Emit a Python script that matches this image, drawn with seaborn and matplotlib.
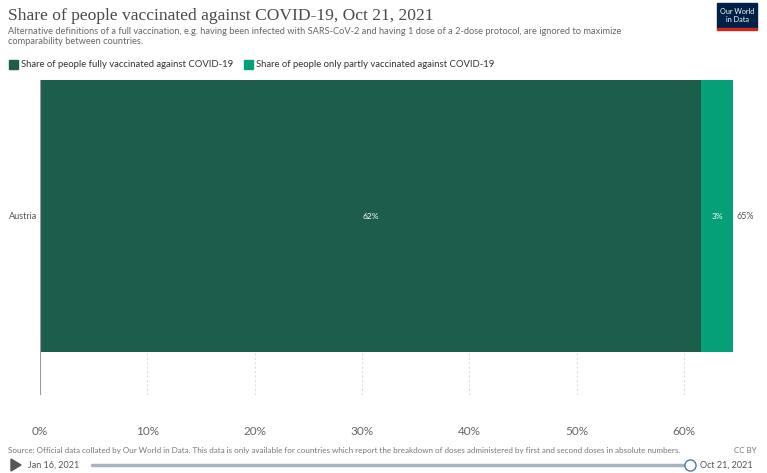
import matplotlib
matplotlib.use("Agg")
import matplotlib.pyplot as plt
import seaborn as sns
import pandas as pd
from matplotlib.patches import Rectangle, Polygon
from matplotlib.lines import Line2D

countries = ["Austria"]
fully = [61.6]
partly = [3.0]
total_labels = ["65%"]
full_labels = ["62%"]
part_labels = ["3%"]
xticks = [0, 10, 20, 30, 40, 50, 60]

sns.set_theme(style="white")
plt.rcParams['font.family'] = ['Lato', 'DejaVu Sans']

W, H = 767, 473
fig = plt.figure(figsize=(W / 100, H / 100), dpi=100)

def fx(px):
    return px / W

def fy(py):
    return 1 - py / H

ax = fig.add_axes([fx(40), fy(395), fx(741) - fx(40), fy(80) - fy(395)])

c_full = "#1d5d4b"
c_part = "#05a077"

df = pd.DataFrame({"country": countries,
                   "fully": fully,
                   "total": [f + p for f, p in zip(fully, partly)]})

sns.barplot(data=df, y="country", x="total", orient="h", color=c_part,
            saturation=1, width=0.8, ax=ax, edgecolor="none")
sns.barplot(data=df, y="country", x="fully", orient="h", color=c_full,
            saturation=1, width=0.8, ax=ax, edgecolor="none")

ax.set_xlim(0, 65.3)
ax.set_ylim(0.526, -0.4)
for s in ax.spines.values():
    s.set_visible(False)
ax.set_xlabel("")
ax.set_ylabel("")
ax.set_yticks([])
ax.set_xticks([])
for t in xticks[1:]:
    ax.axvline(t, color="#dddddd", lw=0.8, ls=(0, (2, 2)), zorder=0)
ax.axvline(0, color="#999999", lw=0.8, zorder=3)

trans = ax.get_xaxis_transform()
for t in xticks:
    ax.text(t, -0.115, f"{t}%", transform=trans, ha="center", va="center",
            fontsize=8.5, color="#666666")

for i, c in enumerate(countries):
    ax.text(-0.3, i, c, ha="right", va="center", fontsize=6.5, color="#555555")
    ax.text(fully[i] / 2, i, full_labels[i], ha="center", va="center",
            fontsize=6, color="white")
    ax.text(fully[i] + partly[i] / 2, i, part_labels[i], ha="center", va="center",
            fontsize=6, color="white")
    ax.text(fully[i] + partly[i] + 0.3, i, total_labels[i], ha="left", va="center",
            fontsize=6.5, color="#555555")

# Title and subtitle
fig.text(fx(8), fy(16), "Share of people vaccinated against COVID-19, Oct 21, 2021",
         fontsize=12.6, family=["Liberation Serif", "DejaVu Serif"], color="#4a4a4a",
         ha="left", va="center")
fig.text(fx(8), fy(31), "Alternative definitions of a full vaccination, e.g. having been infected with SARS-CoV-2 and having 1 dose of a 2-dose protocol, are ignored to maximize",
         fontsize=6.7, color="#666666", ha="left", va="center")
fig.text(fx(8), fy(42), "comparability between countries.",
         fontsize=6.7, color="#666666", ha="left", va="center")

# Legend
fig.patches.append(Rectangle((fx(9), fy(69)), fx(9), fy(60) - fy(69),
                             transform=fig.transFigure, color=c_full))
fig.text(fx(21), fy(64.5), "Share of people fully vaccinated against COVID-19",
         fontsize=6.8, color="#333333", ha="left", va="center")
fig.patches.append(Rectangle((fx(244), fy(69)), fx(9), fy(60) - fy(69),
                             transform=fig.transFigure, color=c_part))
fig.text(fx(256), fy(64.5), "Share of people only partly vaccinated against COVID-19",
         fontsize=6.8, color="#333333", ha="left", va="center")

# Logo
fig.patches.append(Rectangle((fx(717), fy(28)), fx(40), fy(3) - fy(28),
                             transform=fig.transFigure, color="#002147"))
fig.patches.append(Rectangle((fx(717), fy(30)), fx(40), fy(28) - fy(30),
                             transform=fig.transFigure, color="#ce261e"))
fig.text(fx(737), fy(15.5), "Our World\nin Data", fontsize=5.2, color="white",
         ha="center", va="center", linespacing=1.0)

# Source
fig.text(fx(8), fy(450), "Source: Official data collated by Our World in Data. This data is only available for countries which report the breakdown of doses administered by first and second doses in absolute numbers.",
         fontsize=5.8, color="#777777", ha="left", va="center")
fig.text(fx(757), fy(450), "CC BY", fontsize=5.8, color="#777777", ha="right", va="center")

# Timeline
fig.patches.append(Polygon([[fx(11), fy(459)], [fx(11), fy(471)], [fx(21), fy(465)]],
                           closed=True, transform=fig.transFigure, color="#555555"))
fig.text(fx(28), fy(465), "Jan 16, 2021", fontsize=6.5, color="#555555", ha="left", va="center")
fig.lines.append(Line2D([fx(92), fx(686)], [fy(465), fy(465)], transform=fig.transFigure,
                        color="#a7b3c0", lw=2.5, solid_capstyle="round"))
fig.lines.append(Line2D([fx(690)], [fy(465)], transform=fig.transFigure, marker="o",
                        markersize=8, markerfacecolor="white", markeredgecolor="#4a7aa6",
                        markeredgewidth=1.0, ls="none"))
fig.text(fx(700), fy(465), "Oct 21, 2021", fontsize=6.5, color="#555555", ha="left", va="center")

fig.savefig("out.png", dpi=100)
